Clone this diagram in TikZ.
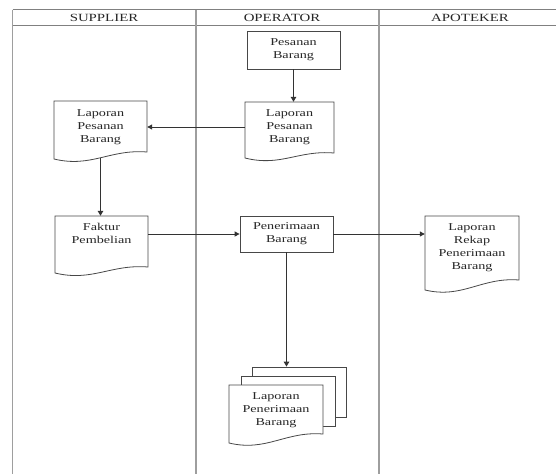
\documentclass[tikz,border=0pt]{standalone}
\usepackage{fontspec}
\setmainfont[FakeStretch=1.35]{Liberation Serif}
\usetikzlibrary{arrows.meta,calc}
\tikzset{
  frameline/.style={draw=black!50, line width=0.9pt},
  vframeline/.style={draw=black!38, line width=1.1pt},
  boxline/.style={draw=black!72, line width=0.8pt, fill=white},
  conn/.style={draw=black!80, line width=1.0pt, -{Triangle[length=5pt,width=5pt]}},
  vconn/.style={draw=black!80, line width=1.6pt, -{Triangle[length=5pt,width=5.5pt]}},
  txt/.style={text=black!85, font=\fontsize{10.5}{13}\selectfont, align=center, inner sep=0pt},
  hdr/.style={text=black!85, font=\fontsize{11}{13}\selectfont, inner sep=0pt},
  procbox/.style={boxline, txt, rectangle},
  area/.style={rectangle, inner sep=0pt, draw=none},
}
\newcommand\docnode[8]{%
  \draw[boxline] (#2,#3) -- (#4,#3) -- (#4,#6)
    .. controls ({#2+0.6*(#4-#2)},{#6-3}) and ({#2+0.4*(#4-#2)},{#5+9}) .. (#2,#5) -- cycle;
  \node[area, minimum width={#4pt-#2pt}, minimum height={#5pt-#3pt}] (#1) at ({(#2+#4)/2},{(#3+#5)/2}) {};
  \node[txt] (#1-t) at ({(#2+#4)/2},#7) {#8};
}
\begin{document}
\begin{tikzpicture}[x=1pt,y=-1pt]
\useasboundingbox (0,0) rectangle (556,474);
% swimlane frame
\coordinate (tl) at (12.5,9.5);
\coordinate (tr) at (556,9.5);
\coordinate (hl) at (12.5,25);
\coordinate (hr) at (556,25);
\coordinate (bl) at (12.5,474);
\coordinate (d1t) at (196,9.5);
\coordinate (d1b) at (196,474);
\coordinate (d2t) at (379,9.5);
\coordinate (d2b) at (379,474);
\draw[frameline] (tl) -- (tr);
\draw[frameline] (hl) -- (hr);
\draw[vframeline] (tl) -- (bl);
\draw[vframeline] (d1t) -- (d1b);
\draw[vframeline] (d2t) -- (d2b);
\node[hdr] (h1) at (104,17.5) {SUPPLIER};
\node[hdr] (h2) at (282,17.5) {OPERATOR};
\node[hdr] (h3) at (470,17.5) {APOTEKER};

% process boxes
\node[procbox, minimum width=93pt, minimum height=38pt] (ps) at (293.5,50) {Pesanan\\Barang};
\node[procbox, minimum width=93pt, minimum height=36pt] (pb) at (286.5,234) {Penerimaan\\Barang};

% documents
\docnode{opdoc}{245}{102}{334}{158}{153}{127}{Laporan\\Pesanan\\Barang}
\docnode{supdoc}{54}{101}{147}{159}{152}{127}{Laporan\\Pesanan\\Barang}
\docnode{fk}{55}{216}{148}{273}{267}{233}{Faktur\\Pembelian}
\docnode{rk}{425}{216}{519}{290}{280}{247.5}{Laporan\\Rekap\\Penerimaan\\Barang}

% multiple document
\node[boxline, area, draw=black!72, minimum width=94pt, minimum height=50pt] (mb1) at (299,392) {};
\node[boxline, area, draw=black!72, minimum width=94pt, minimum height=50pt] (mb2) at (288,401) {};
\docnode{mb3}{229}{385}{323}{443}{434}{410}{Laporan\\Penerimaan\\Barang}

% connectors
\draw[vconn] (ps.south) -- (ps.south |- opdoc.north);
\draw[conn] (opdoc-t -| opdoc.west) -- (opdoc-t -| supdoc.east);
\draw[vconn, shorten <=-1.5pt] (supdoc.south) -- (supdoc.south |- fk.north);
\draw[conn] (fk.east |- pb.west) -- (pb.west);
\draw[conn] (pb.east) -- (pb.east -| rk.west);
\draw[vconn] (pb.south) -- (pb.south |- mb1.north);
\end{tikzpicture}
\end{document}
